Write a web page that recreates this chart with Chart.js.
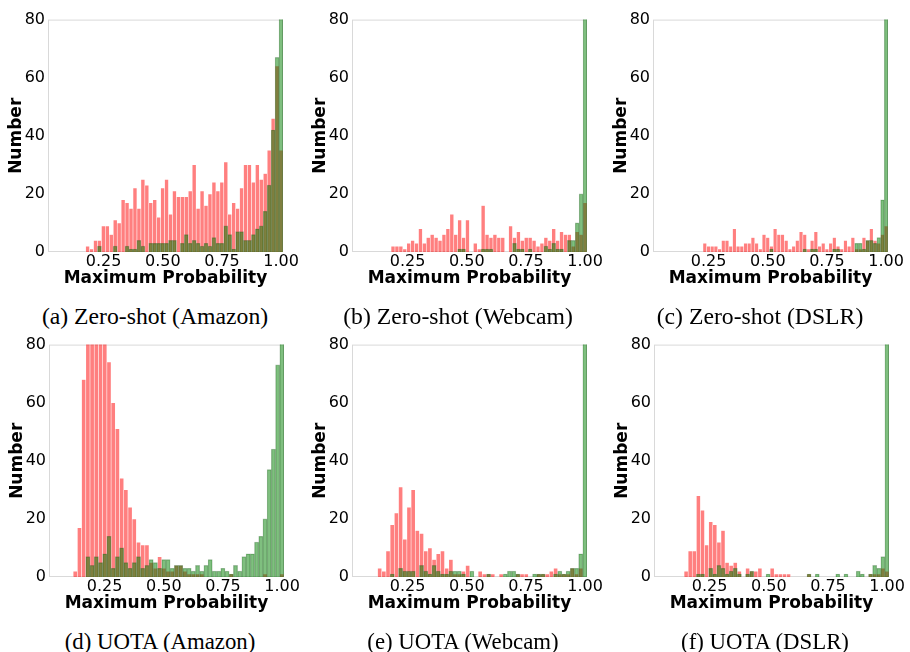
<!DOCTYPE html>
<html><head><meta charset="utf-8">
<script src="https://cdn.jsdelivr.net/npm/chart.js@4.4.0/dist/chart.umd.min.js"></script>
<style>
html,body{margin:0;padding:0;background:#fff;}
body{width:910px;height:652px;position:relative;overflow:hidden;}
canvas{position:absolute;}
.cap{position:absolute;width:320px;text-align:center;font-family:'Liberation Serif','Times New Roman',serif;line-height:1;color:#000;white-space:nowrap;}
</style></head><body>
<script>
// ---------- data ----------
const captions = ['(a) Zero-shot (Amazon)','(b) Zero-shot (Webcam)','(c) Zero-shot (DSLR)',
                  '(d) UOTA (Amazon)','(e) UOTA (Webcam)','(f) UOTA (DSLR)'];
const xTicks = [0.25, 0.50, 0.75, 1.00];
const yTicks = [0, 20, 40, 60, 80];
const xRange = [0.015, 1.008];
const binStart = [0.174, 0.180, 0.226, 0.117, 0.123, 0.142];
const binEnd = 1.008;

const redA = [2,1,4,4,9,9,6,11,10,18,17,15,22,15,25,23,17,18,12,22,25,13,21,19,19,19,21,30,15,21,16,20,24,21,24,31,13,17,15,22,30,30,24,30,25,27,35,46,64,35];
const greenA = [0,0,0,2,0,0,0,2,0,0,2,1,1,4,2,0,3,3,3,3,3,4,4,0,3,6,3,4,3,2,3,2,5,3,3,9,6,1,7,7,4,4,6,8,9,14,23,42,67,160];
const redB = [2,2,2,1,3,4,3,8,3,5,6,5,4,6,8,13,6,11,5,11,0,3,1,16,6,5,6,5,5,0,9,5,7,4,5,5,4,2,3,5,4,8,4,7,6,6,2,7,6,17];
const greenB = [0,0,0,0,0,0,0,0,0,0,0,0,0,0,0,0,0,1,1,0,0,0,0,1,1,1,0,0,0,0,0,3,1,1,0,1,0,0,0,2,1,3,1,1,0,4,4,10,20,180];
const redC = [3,2,2,2,1,4,4,2,8,2,2,3,3,5,3,1,6,5,2,8,6,6,4,1,2,4,7,6,1,4,7,2,3,1,3,5,2,1,4,2,5,1,1,5,4,8,4,3,6,9];
const greenC = [0,0,0,0,0,0,0,0,0,0,0,0,0,0,0,0,0,0,1,0,0,0,0,0,0,0,0,1,0,1,1,0,0,0,0,1,1,0,0,0,0,3,3,1,4,4,3,5,18,170];
const redD = [2,17,68,86,96,94,91,84,74,60,51,34,30,24,20,12,11,11,5,3,7,3,2,2,4,4,2,1,1,1,1,0,0,0,0,0,0,1,0,0,0,0,0,0,0,1,0,0,0,1];
const greenD = [0,0,0,7,4,7,5,8,14,3,7,10,5,3,5,7,3,4,6,5,3,6,6,3,4,4,3,3,2,4,2,4,6,2,2,3,2,1,4,2,7,8,8,12,14,20,37,44,73,90];
const redE = [3,2,9,18,22,31,13,24,30,16,15,9,10,6,8,9,3,6,1,1,2,4,0,0,2,1,1,1,0,1,0,0,0,1,1,1,0,0,1,1,1,2,3,1,1,1,3,1,3,0];
const greenE = [0,0,0,1,0,3,2,2,2,0,4,2,1,4,2,1,1,2,2,2,1,0,2,0,0,0,1,0,0,0,1,2,2,1,0,0,0,1,1,1,0,0,1,2,1,2,3,3,8,150];
const redF = [2,9,9,28,23,11,19,18,12,16,5,4,5,2,0,3,2,2,3,0,0,3,1,1,1,1,0,0,0,0,1,0,0,0,0,0,0,0,0,0,0,0,0,0,0,1,1,1,3,2];
const greenF = [0,0,0,1,1,0,3,1,4,3,1,2,3,1,0,1,2,0,0,0,1,0,0,0,0,0,0,0,0,0,1,0,1,0,0,0,0,1,0,1,0,0,2,1,0,1,4,3,7,140];

const redSeries = [redA, redB, redC, redD, redE, redF];
const greenSeries = [greenA, greenB, greenC, greenD, greenE, greenF];

// ---------- layout ----------
const plotLeft = [48, 352, 653, 49, 352, 654];
const plotTop = [17, 17, 17, 342, 342, 342];
const capCenter = [155, 458, 760, 160, 463, 765];
const capTop = [305, 305, 305, 631, 631, 631];
const capSize = [23.7, 23.7, 23.7, 22.8, 22.8, 22.8];
const PW = 235, PH = 235, YW = 48, XH = 37, PADT = 10, PADR = 22;

const framePlugin = {
  id: 'frame',
  beforeDatasetsDraw(chart) {
    const {ctx, chartArea: a} = chart;
    ctx.save();
    ctx.strokeStyle = '#d9d9d9';
    ctx.lineWidth = 1;
    ctx.strokeRect(a.left + 0.5, a.top + 0.5, a.right - a.left - 1, a.bottom - a.top - 1);
    ctx.restore();
  }
};

const tickFont = {family: "'DejaVu Sans', sans-serif", size: 16};
const titleFont = {family: "'DejaVu Sans', sans-serif", size: 17, weight: 'bold'};

for (let p = 0; p < 6; p++) {
  const cv = document.createElement('canvas');
  const W = YW + PW + PADR, H = PADT + PH + XH;
  cv.width = W; cv.height = H;
  cv.style.left = (plotLeft[p] - YW) + 'px';
  cv.style.top = (plotTop[p] - PADT) + 'px';
  cv.style.width = W + 'px'; cv.style.height = H + 'px';
  document.body.appendChild(cv);

  const n = redSeries[p].length;
  const w = (binEnd - binStart[p]) / n;
  const centers = redSeries[p].map((_, i) => binStart[p] + (i + 0.5) * w);

  new Chart(cv, {
    type: 'bar',
    data: {
      datasets: [
        {
          label: 'red',
          data: redSeries[p].map((v, i) => ({x: centers[i], y: v})),
          backgroundColor: 'rgba(255,0,0,0.5)',
          borderColor: 'rgba(255,255,255,0.35)',
          borderWidth: 0.6,
          grouped: false, barPercentage: 1, categoryPercentage: 1, order: 2
        },
        {
          label: 'green',
          data: greenSeries[p].map((v, i) => ({x: centers[i], y: v})),
          backgroundColor: 'rgba(0,128,0,0.5)',
          borderColor: 'rgba(0,60,0,0.3)',
          borderWidth: 0.6,
          grouped: false, barPercentage: 1, categoryPercentage: 1, order: 1
        }
      ]
    },
    options: {
      responsive: false, animation: false, devicePixelRatio: 1,
      layout: {padding: {top: PADT, right: PADR, left: 0, bottom: 0}},
      plugins: {legend: {display: false}, tooltip: {enabled: false}},
      scales: {
        x: {
          type: 'linear', min: xRange[0], max: xRange[1], offset: false,
          grid: {display: false, drawTicks: false, offset: false}, border: {display: false},
          afterBuildTicks: s => { s.ticks = xTicks.map(v => ({value: v})); },
          ticks: {autoSkip: false, maxRotation: 0, minRotation: 0, padding: 0, color: '#000', font: tickFont,
                  callback: v => Number(v).toFixed(2)},
          title: {display: true, text: 'Maximum Probability', color: '#000', font: titleFont, padding: {top: 0, bottom: 0}},
          afterFit: s => { s.height = XH; }
        },
        y: {
          min: 0, max: 80,
          grid: {display: false, drawTicks: false}, border: {display: false},
          afterBuildTicks: s => { s.ticks = yTicks.map(v => ({value: v})); },
          ticks: {padding: 3, color: '#000', font: tickFont},
          title: {display: true, text: 'Number', color: '#000', font: titleFont, padding: {top: 6, bottom: 0}},
          afterFit: s => { s.width = YW; }
        }
      }
    },
    plugins: [framePlugin]
  });

  const cap = document.createElement('div');
  cap.className = 'cap';
  cap.textContent = captions[p];
  cap.style.fontSize = capSize[p] + 'px';
  cap.style.left = (capCenter[p] - 160) + 'px';
  cap.style.top = capTop[p] + 'px';
  document.body.appendChild(cap);
}
</script>
</body></html>
